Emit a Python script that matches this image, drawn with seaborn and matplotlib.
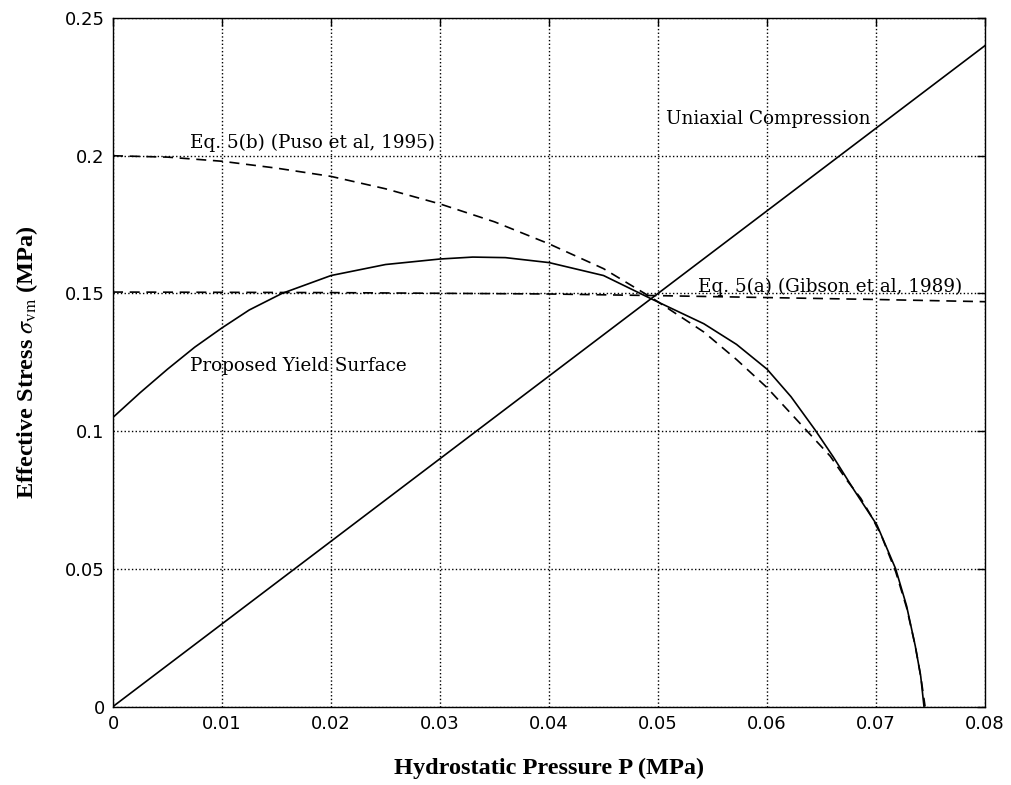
import matplotlib
matplotlib.use("Agg")
import matplotlib.pyplot as plt
import seaborn as sns
import pandas as pd

# data
uni_p = [0.0, 0.08]
uni_s = [0.0, 0.24]

prop_p = [0.0, 0.0025, 0.005, 0.0075, 0.01, 0.0125, 0.0155, 0.02, 0.025, 0.03, 0.033,
          0.036, 0.04, 0.045, 0.0494, 0.0542, 0.0572, 0.06, 0.0622, 0.0644, 0.0661,
          0.068, 0.0701, 0.0718, 0.0728, 0.0736, 0.0741, 0.0744]
prop_s = [0.105, 0.114, 0.1225, 0.1305, 0.1375, 0.144, 0.150, 0.1565, 0.1605, 0.1625, 0.1632,
          0.163, 0.1612, 0.1565, 0.148, 0.139, 0.1315, 0.1225, 0.1125, 0.1005, 0.0905,
          0.0785, 0.0658, 0.05, 0.0366, 0.022, 0.011, 0.0]

puso_p = [0.0, 0.005, 0.01, 0.015, 0.02, 0.025, 0.03, 0.035, 0.04, 0.045, 0.0494,
          0.0542, 0.0572, 0.06, 0.0658, 0.0673, 0.0686, 0.0696, 0.0705, 0.0718, 0.0728,
          0.0736, 0.0741, 0.0745]
puso_s = [0.2, 0.1995, 0.198, 0.1955, 0.1925, 0.188, 0.1825, 0.176, 0.168, 0.159, 0.1485,
          0.136, 0.126, 0.1158, 0.0909, 0.0823, 0.0756, 0.0689, 0.062, 0.049, 0.036,
          0.022, 0.011, 0.0]

gib_p = [0.0, 0.02, 0.04, 0.05, 0.06, 0.07, 0.08]
gib_s = [0.1505, 0.1503, 0.1498, 0.1492, 0.1485, 0.1478, 0.147]

x_ticks = [0, 0.01, 0.02, 0.03, 0.04, 0.05, 0.06, 0.07, 0.08]
x_labels = ["0", "0.01", "0.02", "0.03", "0.04", "0.05", "0.06", "0.07", "0.08"]
y_ticks = [0, 0.05, 0.1, 0.15, 0.2, 0.25]
y_labels = ["0", "0.05", "0.1", "0.15", "0.2", "0.25"]

sns.set_theme(style="white")
plt.rcParams["font.family"] = ["DejaVu Sans"]
plt.rcParams["mathtext.fontset"] = "stix"

fig = plt.figure(figsize=(10.11, 7.85), dpi=100)
ax = fig.add_axes([0.1118, 0.1, 0.8625, 0.877])

kw = dict(color="black", linewidth=1.2, ax=ax, legend=False)
sns.lineplot(data=pd.DataFrame({"P": uni_p, "S": uni_s}), x="P", y="S", **kw)
sns.lineplot(data=pd.DataFrame({"P": prop_p, "S": prop_s}), x="P", y="S", **kw)
sns.lineplot(data=pd.DataFrame({"P": puso_p, "S": puso_s}), x="P", y="S", **kw)
sns.lineplot(data=pd.DataFrame({"P": gib_p, "S": gib_s}), x="P", y="S", **kw)
ax.lines[2].set_dashes((6, 4))
ax.lines[3].set_dashes((6, 4))

ax.set_xlim(0, 0.08)
ax.set_ylim(0, 0.25)
ax.set_xticks(x_ticks)
ax.set_xticklabels(x_labels)
ax.set_yticks(y_ticks)
ax.set_yticklabels(y_labels)
ax.tick_params(direction="in", length=6, width=1, colors="black", labelsize=13,
               top=True, right=True, pad=6)
ax.grid(True, linestyle=":", color="black", linewidth=1)
for s in ax.spines.values():
    s.set_color("black")
    s.set_linewidth(1)

lab = dict(family="Liberation Serif", fontweight="bold", fontsize=17.5, color="black")
ax.set_xlabel("Hydrostatic Pressure P (MPa)", labelpad=18, **lab)
ax.set_ylabel(r"Effective Stress $\sigma_{\rm vm}$ (MPa)", labelpad=18, **lab)

txt = dict(family="DejaVu Serif", fontsize=13.2, color="black", va="center")
ax.text(0.0071, 0.2045, "Eq. 5(b) (Puso et al, 1995)", **txt)
ax.text(0.0507, 0.2135, "Uniaxial Compression", **txt)
ax.text(0.0537, 0.1525, "Eq. 5(a) (Gibson et al, 1989)", **txt)
ax.text(0.0071, 0.1235, "Proposed Yield Surface", **txt)

fig.savefig("out.png", dpi=100)
